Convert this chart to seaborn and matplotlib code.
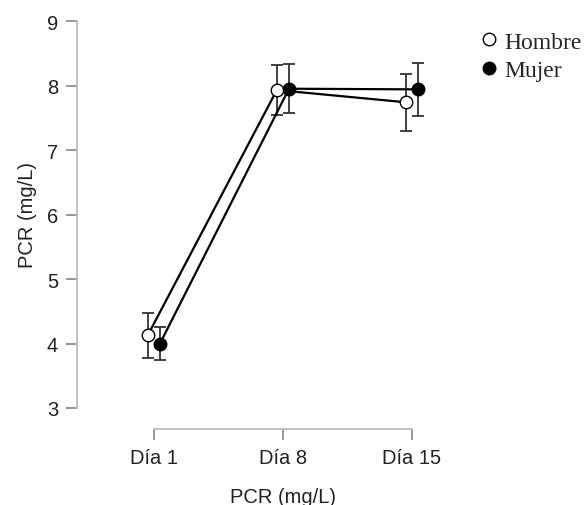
import pandas as pd
import matplotlib.pyplot as plt
import seaborn as sns
from matplotlib.lines import Line2D

# values (mean and half-width of the error bar)
dias = ['Día 1', 'Día 8', 'Día 15']
sexos = ['Hombre', 'Mujer']
hombre_media = [4.13, 7.93, 7.74]
hombre_err = [0.35, 0.39, 0.44]
mujer_media = [4.00, 7.95, 7.94]
mujer_err = [0.25, 0.38, 0.41]

df = pd.DataFrame({
    'dia': dias * 2,
    'sexo': ['Hombre'] * 3 + ['Mujer'] * 3,
    'pcr': hombre_media + mujer_media,
    'err': hombre_err + mujer_err,
})

sns.set_style('ticks')
plt.rcParams['font.family'] = ['Liberation Sans', 'DejaVu Sans']

fig = plt.figure(figsize=(5.86, 5.06), dpi=100)
ax = fig.add_axes([108.8 / 586, 1 - 409 / 506, 348.2 / 586, 387 / 506])

sns.pointplot(data=df, x='dia', y='pcr', hue='sexo', hue_order=sexos, order=dias,
              palette={'Hombre': 'black', 'Mujer': 'black'}, dodge=0.094,
              errorbar=None, markers='o', markersize=9, linewidth=1.6,
              legend=False, ax=ax)

# error bars at the dodged positions that pointplot used
pts = ax.lines[:2]
fills = {'Hombre': 'white', 'Mujer': 'black'}
for line, sexo in zip(pts, sexos):
    line.set_markerfacecolor(fills[sexo])
    line.set_markeredgecolor('black')
    line.set_markeredgewidth(1.0)
    line.set_zorder(3)
    sub = df[df['sexo'] == sexo]
    ax.errorbar(line.get_xdata(), sub['pcr'], yerr=sub['err'], fmt='none',
                ecolor='#333333', elinewidth=1.3, capsize=4.3, capthick=1.3, zorder=2)

ax.set_xlim(-0.35, 2.35)
ax.set_ylim(3, 9)
ax.set_yticks(range(3, 10))
ax.tick_params(axis='both', labelsize=14.5, length=7.6, width=1.2,
               color='#888888', labelcolor='#222222', pad=6)
for s in ['left', 'bottom']:
    ax.spines[s].set_color('#b8b8b8')
    ax.spines[s].set_linewidth(1.2)
sns.despine(ax=ax, offset={'left': 22.9, 'bottom': 15.1}, trim=True)

ax.set_ylabel('PCR (mg/L)', fontsize=14.5, color='#222222')
ax.set_xlabel('PCR (mg/L)', fontsize=14.5, color='#222222')
ax.yaxis.set_label_coords(-0.205, 0.5)
ax.xaxis.set_label_coords(0.5, -0.205)

handles = [Line2D([], [], marker='o', linestyle='', markersize=9,
                  markerfacecolor=fills[s], markeredgecolor='black', markeredgewidth=1.0)
           for s in sexos]
fig.legend(handles, sexos, loc='upper left', bbox_to_anchor=(478 / 586, 1 - 32 / 506),
           frameon=False, prop={'family': 'Liberation Serif', 'size': 17},
           handlelength=0.9, handletextpad=0.2, labelspacing=0.3,
           borderpad=0, borderaxespad=0)

plt.savefig('out.png', dpi=100)
